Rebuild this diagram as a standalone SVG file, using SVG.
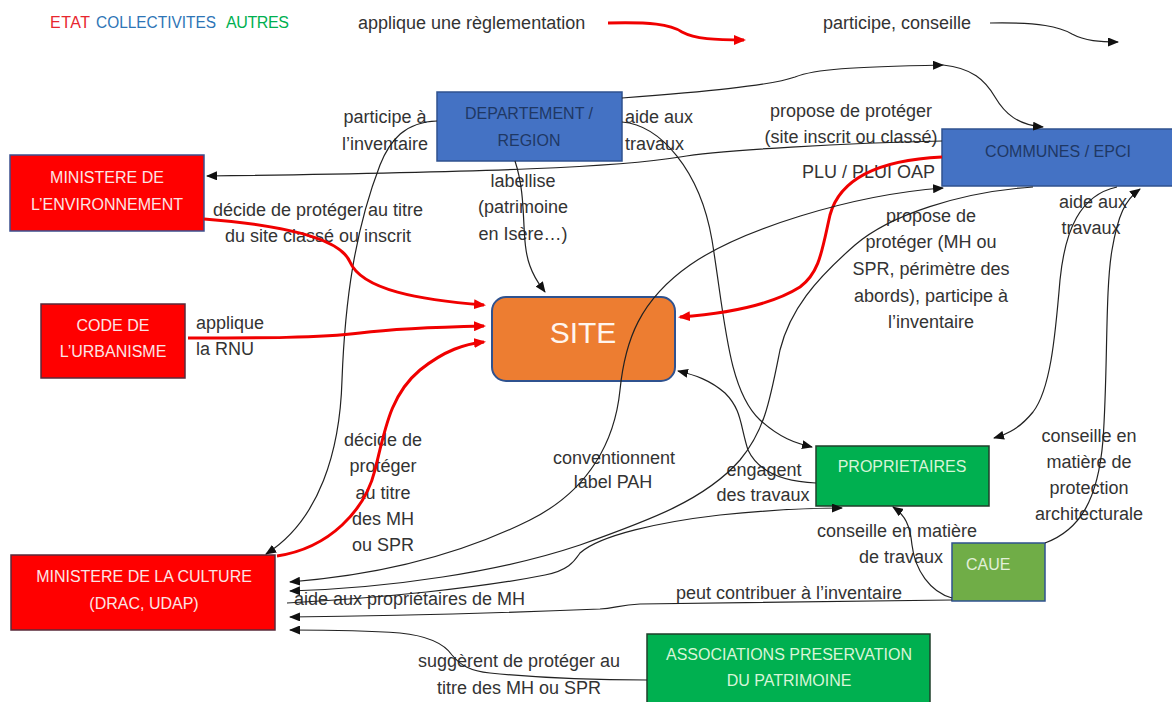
<svg xmlns="http://www.w3.org/2000/svg" width="1172" height="702" viewBox="0 0 1172 702">
<defs>
<marker id="ab" markerUnits="userSpaceOnUse" markerWidth="11" markerHeight="9" refX="10" refY="4.5" orient="auto"><path d="M0,0 L11,4.5 L0,9 z" fill="#111"/></marker>
<marker id="abs" markerUnits="userSpaceOnUse" markerWidth="11" markerHeight="9" refX="1" refY="4.5" orient="auto"><path d="M11,0 L0,4.5 L11,9 z" fill="#111"/></marker>
<marker id="ar" markerUnits="userSpaceOnUse" markerWidth="12" markerHeight="10" refX="10" refY="5" orient="auto"><path d="M0,0 L12,5 L0,10 z" fill="#F00000"/></marker>
<style>
.lbl{font-family:"Liberation Sans",Arial,sans-serif;font-size:18px;fill:#333}
.mid{text-anchor:middle}
.cap{font-family:"Liberation Sans",Arial,sans-serif;font-size:16px;text-anchor:middle}
.leg{font-family:"Liberation Sans",Arial,sans-serif;font-size:16px}
.blk{fill:none;stroke:#222;stroke-width:1.2}
.red{fill:none;stroke:#F00000;stroke-width:3}
.nb{fill:#4472C4;stroke:#2F528F;stroke-width:1.5}
.nr{fill:#FF0000;stroke:#5A2A3A;stroke-width:1.5}
.ng{fill:#00B050;stroke:#1F3F2A;stroke-width:1.5}
.tb{fill:#1F3864}
.tw{fill:#FBE5E5}
.tg{fill:#D8F5D8}
</style>
</defs>

<g id="legend">
<text class="leg" x="50" y="28" fill="#E8262E" textLength="40">ETAT</text>
<text class="leg" x="96" y="28" fill="#2E75B6" textLength="120" lengthAdjust="spacingAndGlyphs">COLLECTIVITES</text>
<text class="leg" x="226" y="28" fill="#00B050" textLength="63">AUTRES</text>
<text class="lbl" x="358" y="29">applique une règlementation</text>
<text class="lbl" x="823" y="29">participe, conseille</text>
</g>

<g id="labels">
<text class="lbl mid" x="385" y="123">participe à</text>
<text class="lbl mid" x="385" y="150">l’inventaire</text>
<text class="lbl" x="625" y="123">aide aux</text>
<text class="lbl" x="625" y="150">travaux</text>
<text class="lbl mid" x="851" y="117">propose de protéger</text>
<text class="lbl mid" x="851" y="143">(site inscrit ou classé)</text>
<text class="lbl" x="935" y="178" text-anchor="end">PLU / PLUI OAP</text>
<text class="lbl mid" x="318" y="216">décide de protéger au titre</text>
<text class="lbl mid" x="318" y="242">du site classé ou inscrit</text>
<text class="lbl mid" x="523" y="187">labellise</text>
<text class="lbl mid" x="523" y="213">(patrimoine</text>
<text class="lbl mid" x="523" y="240">en Isère…)</text>
<text class="lbl" x="196" y="329">applique</text>
<text class="lbl" x="196" y="355">la RNU</text>
<text class="lbl mid" x="931" y="222">propose de</text>
<text class="lbl mid" x="931" y="248">protéger (MH ou</text>
<text class="lbl mid" x="931" y="275">SPR, périmètre des</text>
<text class="lbl mid" x="931" y="302">abords), participe à</text>
<text class="lbl mid" x="931" y="328">l’inventaire</text>
<text class="lbl mid" x="1093" y="208">aide aux</text>
<text class="lbl mid" x="1091" y="234">travaux</text>
<text class="lbl mid" x="383" y="446">décide de</text>
<text class="lbl mid" x="383" y="472">protéger</text>
<text class="lbl mid" x="383" y="499">au titre</text>
<text class="lbl mid" x="383" y="525">des MH</text>
<text class="lbl mid" x="383" y="551">ou SPR</text>
<text class="lbl mid" x="614" y="464">conventionnent</text>
<text class="lbl mid" x="613" y="488">label PAH</text>
<text class="lbl mid" x="764" y="476">engagent</text>
<text class="lbl mid" x="763" y="501">des travaux</text>
<text class="lbl mid" x="1089" y="442">conseille en</text>
<text class="lbl mid" x="1089" y="468">matière de</text>
<text class="lbl mid" x="1089" y="494">protection</text>
<text class="lbl mid" x="1089" y="520">architecturale</text>
<text class="lbl mid" x="897" y="537">conseille en matière</text>
<text class="lbl mid" x="901" y="563">de travaux</text>
<text class="lbl" x="294" y="605">aide aux propriétaires de MH</text>
<text class="lbl" x="676" y="599">peut contribuer à l’inventaire</text>
<text class="lbl mid" x="519" y="667">suggèrent de protéger au</text>
<text class="lbl mid" x="519" y="694">titre des MH ou SPR</text>
</g>

<g id="node-departement">
<rect class="nb" x="437" y="92" width="185" height="69"/>
<text class="cap tb" x="529" y="119">DEPARTEMENT /</text>
<text class="cap tb" x="529" y="146">REGION</text>
</g>
<g id="node-communes">
<rect class="nb" x="942" y="129" width="232" height="57"/>
<text class="cap tb" x="1058" y="157">COMMUNES / EPCI</text>
</g>
<g id="node-min-env">
<rect x="10" y="155" width="194" height="76" fill="#FF0000" stroke="#3B4F8F" stroke-width="1.5"/>
<text class="cap tw" x="107" y="183">MINISTERE DE</text>
<text class="cap tw" x="107" y="210">L’ENVIRONNEMENT</text>
</g>
<g id="node-code">
<rect class="nr" x="41" y="304" width="144" height="74"/>
<text class="cap tw" x="113" y="331">CODE DE</text>
<text class="cap tw" x="113" y="357">L’URBANISME</text>
</g>
<g id="node-site">
<rect x="492" y="297" width="183" height="84" rx="14" fill="#ED7D31" stroke="#2F528F" stroke-width="2"/>
<text x="583" y="343" style="font-family:'Liberation Sans',Arial,sans-serif;font-size:30px;text-anchor:middle" fill="#FFF5EE">SITE</text>
</g>
<g id="node-min-culture">
<rect class="nr" x="11" y="555" width="264" height="75"/>
<text class="cap tw" x="144" y="582">MINISTERE DE LA CULTURE</text>
<text class="cap tw" x="144" y="609">(DRAC, UDAP)</text>
</g>
<g id="node-proprietaires">
<rect class="ng" x="816" y="446" width="173" height="60"/>
<text class="cap tg" x="902" y="472">PROPRIETAIRES</text>
</g>
<g id="node-caue">
<rect x="952" y="543" width="93" height="58" fill="#70AD47" stroke="#2F528F" stroke-width="1.5"/>
<text x="966" y="570" style="font-family:'Liberation Sans',Arial,sans-serif;font-size:16px" fill="#E2F0D9">CAUE</text>
</g>
<g id="node-associations">
<rect class="ng" x="647" y="634" width="283" height="72"/>
<text class="cap tg" x="789" y="660">ASSOCIATIONS PRESERVATION</text>
<text class="cap tg" x="789" y="686">DU PATRIMOINE</text>
</g>

<g id="connectors">
<path class="red" d="M608,23 C650,22 670,24 682,32 C695,39 715,40 744,40" marker-end="url(#ar)"/>
<path class="blk" d="M990,23 C1040,22 1060,27 1072,34 C1085,41 1100,42 1118,42" marker-end="url(#ab)"/>
<path class="blk" d="M622,98 C700,92 770,86 795,77 C815,69 850,67 943,65" marker-end="url(#ab)"/>
<path class="blk" d="M943,65 C972,68 985,80 995,97 C1005,114 1018,125 1043,127" marker-end="url(#ab)"/>
<path class="blk" d="M942,141 C850,143 720,150 680,157 C620,167 500,172 207,176" marker-end="url(#ab)"/>
<path class="blk" d="M437,121 C405,122 390,140 380,165 C355,230 345,300 342,380 C340,450 320,520 266,554" marker-end="url(#ab)"/>
<path class="blk" d="M622,122 C660,125 700,170 712,240 C725,320 728,390 760,420 C780,438 795,443 812,447" marker-end="url(#ab)"/>
<path class="blk" d="M515,161 C528,200 520,240 530,266 C535,280 540,285 545,292" marker-end="url(#ab)"/>
<path class="red" d="M204,219 C280,225 340,238 350,262 C362,290 420,300 484,305" marker-end="url(#ar)"/>
<path class="red" d="M188,338 C260,338 320,338 360,333 C400,328 440,327 484,326" marker-end="url(#ar)"/>
<path class="red" d="M277,556 C330,548 365,510 375,470 C385,430 390,395 420,370 C445,350 465,344 484,342" marker-end="url(#ar)"/>
<path class="red" d="M942,157 C880,160 840,178 830,215 C822,250 820,272 800,287 C770,306 720,314 680,317" marker-end="url(#ar)"/>
<path class="blk" d="M943,188 C850,195 740,230 690,265 C640,300 625,340 620,390 C615,440 590,490 530,520 C460,555 380,575 290,582" marker-start="url(#abs)" marker-end="url(#ab)"/>
<path class="blk" d="M1033,187 C960,192 890,215 855,245 C815,280 790,310 780,350 C770,400 765,430 740,460 C705,500 650,520 580,545 C500,572 390,588 290,591" marker-end="url(#ab)"/>
<path class="blk" d="M287,603 C380,598 480,588 545,575 C570,570 575,560 580,553 C600,535 660,522 720,515 C780,509 815,508 842,508" marker-end="url(#ab)"/>
<path class="blk" d="M952,600 C800,602 700,603 640,604 C620,605 615,608 600,609 C500,613 400,616 290,617" marker-end="url(#ab)"/>
<path class="blk" d="M647,680 C600,680 540,678 490,673 C470,671 460,665 452,655 C445,645 430,636 400,633 C360,630 320,630 290,630" marker-end="url(#ab)"/>
<path class="blk" d="M952,598 C930,592 915,570 912,545 C910,525 905,515 893,507" marker-end="url(#ab)"/>
<path class="blk" d="M1045,543 C1080,530 1098,500 1103,440 C1108,370 1105,290 1112,250 C1118,215 1125,200 1140,189" marker-end="url(#ab)"/>
<path class="blk" d="M1117,187 C1080,195 1065,230 1060,280 C1055,340 1050,390 1033,412 C1020,428 1008,434 994,438" marker-end="url(#ab)"/>
<path class="blk" d="M816,483 C790,482 760,475 748,450 C740,425 742,410 725,393 C710,380 695,375 678,371" marker-end="url(#ab)"/>
</g>
</svg>
